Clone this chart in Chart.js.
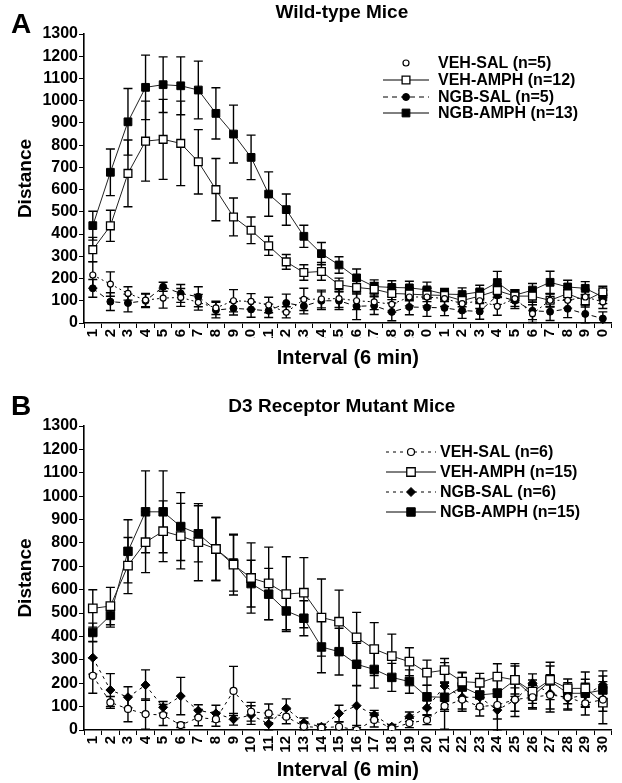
<!DOCTYPE html>
<html><head><meta charset="utf-8">
<script src="https://cdn.jsdelivr.net/npm/chart.js@4.4.1/dist/chart.umd.min.js"></script>
<style>
html,body{margin:0;padding:0;background:#fff;}
#wrap{position:relative;width:622px;height:783px;overflow:hidden;background:#fff;}
.pane{position:absolute;left:0;width:622px;}
#pa{top:0;height:380px;} #pb{top:380px;height:403px;}
canvas{display:block;}
</style></head><body>
<div id="wrap">
<div class="pane" id="pa"><canvas id="ca" width="622" height="380"></canvas></div>
<div class="pane" id="pb"><canvas id="cb" width="622" height="403"></canvas></div>
</div>
<script>
// ---------- data ----------
const intervals = ['1','2','3','4','5','6','7','8','9','10','11','12','13','14','15','16','17','18','19','20','21','22','23','24','25','26','27','28','29','30'];
const yTicks = [0,100,200,300,400,500,600,700,800,900,1000,1100,1200,1300];

// Panel A: Wild-type Mice
const wtLabels = ['VEH-SAL (n=5)','VEH-AMPH (n=12)','NGB-SAL (n=5)','NGB-AMPH (n=13)'];
const wtVehSal      = [216,175,133,103,112,115,93,68,100,97,81,48,106,108,110,100,95,84,117,117,110,87,100,75,110,42,102,102,117,95];
const wtVehSalErr   = [60,55,30,30,45,40,35,30,50,35,35,25,50,40,40,40,35,35,40,40,35,35,35,40,35,40,30,35,35,30];
const wtVehAmph     = [330,437,673,818,826,808,725,600,477,417,347,275,227,232,172,160,152,133,130,126,124,101,121,146,121,121,102,132,100,140];
const wtVehAmphErr  = [55,70,150,180,180,190,145,140,85,60,43,33,35,40,30,30,30,28,30,30,28,28,28,30,28,28,28,28,28,25];
const wtNgbSal      = [156,96,90,100,163,133,118,58,66,61,55,90,76,100,100,75,78,50,72,70,68,56,52,124,100,55,51,64,41,20];
const wtNgbSalErr   = [40,40,40,30,20,40,45,35,30,35,30,40,35,40,40,60,40,40,35,40,35,35,35,40,35,40,40,40,40,30];
const wtNgbAmph     = [438,678,905,1060,1072,1067,1048,943,850,745,580,510,390,312,261,203,164,160,158,149,130,128,140,182,125,148,183,162,156,117];
const wtNgbAmphErr  = [65,105,150,145,125,130,130,115,130,100,100,70,50,50,37,40,30,30,30,35,25,30,30,50,25,30,50,30,30,30];

// Panel B: D3 Receptor Mutant Mice
const d3Labels = ['VEH-SAL (n=6)','VEH-AMPH (n=15)','NGB-SAL (n=6)','NGB-AMPH (n=15)'];
const d3VehSal      = [232,118,90,68,64,21,53,46,167,78,71,57,15,10,14,0,43,7,30,43,103,130,100,107,130,140,150,140,114,130];
const d3VehSalErr   = [75,25,55,65,45,10,35,30,105,40,40,30,20,15,20,10,30,15,20,20,100,40,40,60,50,50,60,50,50,50];
const d3VehAmph     = [520,530,703,803,850,829,803,774,707,650,627,581,587,481,463,396,346,316,292,245,256,207,202,228,214,164,214,178,178,117];
const d3VehAmphErr  = [80,80,120,130,130,140,165,135,130,150,155,160,150,165,135,107,113,94,60,54,50,40,40,55,60,50,60,40,70,90];
const d3NgbSal      = [309,171,140,192,97,145,83,71,46,64,26,93,31,14,71,104,64,14,57,95,188,140,140,85,128,200,157,135,150,193];
const d3NgbSalErr   = [70,70,45,65,25,80,25,35,25,40,25,40,20,10,35,85,20,10,20,30,100,60,50,90,70,40,80,50,50,60];
const d3NgbAmph     = [417,490,764,933,933,870,839,774,714,626,581,509,478,355,335,281,259,225,207,142,140,185,150,157,214,145,210,157,157,171];
const d3NgbAmphErr  = [40,50,135,175,175,145,120,135,120,100,110,80,75,110,100,90,80,60,50,50,60,60,50,60,70,50,80,45,60,60];

// ---------- helpers ----------
const FONT = '"Liberation Sans", Arial, Helvetica, sans-serif';
Chart.defaults.color = '#000';
Chart.defaults.font.family = FONT;

function drawMarker(ctx, style, r, x, y, fill, bw){
  ctx.save();
  ctx.setLineDash([]);
  ctx.fillStyle = fill; ctx.strokeStyle = '#000'; ctx.lineWidth = bw;
  ctx.beginPath();
  if (style === 'circle') { ctx.arc(x, y, r, 0, Math.PI*2); }
  else if (style === 'rect') { const s = Math.SQRT1_2*r; ctx.rect(x-s, y-s, 2*s, 2*s); }
  else if (style === 'rectRot') { ctx.moveTo(x, y-r); ctx.lineTo(x+r, y); ctx.lineTo(x, y+r); ctx.lineTo(x-r, y); ctx.closePath(); }
  ctx.fill(); if (bw > 0) ctx.stroke();
  ctx.restore();
}

const errorBars = {
  id: 'errorBars',
  beforeDatasetsDraw(chart){
    const {ctx, chartArea: a, scales: {y}} = chart;
    ctx.save();
    ctx.beginPath(); ctx.rect(a.left, 0, a.right - a.left, a.bottom + 1); ctx.clip();
    ctx.strokeStyle = '#000'; ctx.lineWidth = 1.4; ctx.setLineDash([]);
    chart.data.datasets.forEach((ds, i) => {
      const meta = chart.getDatasetMeta(i);
      meta.data.forEach((pt, j) => {
        const v = ds.data[j], e = ds.errs[j];
        const yt = y.getPixelForValue(v + e), yb = y.getPixelForValue(v - e);
        const x = pt.x, cw = 4.5;
        ctx.beginPath();
        ctx.moveTo(x, yt); ctx.lineTo(x, yb);
        ctx.moveTo(x - cw, yt); ctx.lineTo(x + cw, yt);
        ctx.moveTo(x - cw, yb); ctx.lineTo(x + cw, yb);
        ctx.stroke();
      });
    });
    ctx.restore();
  }
};

const panelDecor = {
  id: 'panelDecor',
  afterDraw(chart, args, o){
    const {ctx, chartArea: a} = chart;
    ctx.save();
    ctx.fillStyle = '#000';
    ctx.textBaseline = 'middle';
    // panel letter
    ctx.font = 'bold 28px ' + FONT; ctx.textAlign = 'left';
    ctx.fillText(o.letter, o.letterX, o.letterY);
    // panel title
    ctx.font = 'bold 19px ' + FONT; ctx.textAlign = 'center';
    ctx.fillText(o.title, (a.left + a.right)/2 - 6, o.titleY);
    // legend
    ctx.font = 'bold 16px ' + FONT; ctx.textAlign = 'left';
    chart.data.datasets.forEach((ds, i) => {
      const y = a.top + o.rowY[i];
      if (o.showLine[i]) {
        ctx.save();
        ctx.strokeStyle = '#000'; ctx.lineWidth = ds.borderWidth;
        ctx.setLineDash(ds.borderDash || []);
        ctx.beginPath(); ctx.moveTo(o.x0, y); ctx.lineTo(o.x1, y); ctx.stroke();
        ctx.restore();
      }
      drawMarker(ctx, ds.pointStyle, ds.pointRadius, (o.x0 + o.x1)/2, y, ds.pointBackgroundColor, ds.pointBorderWidth);
      ctx.fillStyle = '#000';
      ctx.fillText(ds.label, o.xt, y + 1);
    });
    ctx.restore();
  }
};

function makeDatasets(labels, vs, vse, va, vae, ns, nse, na, nae, P){
  const common = {fill: false, tension: 0, borderColor: '#000', pointBorderColor: '#000'};
  return [
    Object.assign({}, common, {label: labels[0], data: vs, errs: vse, borderWidth: 1, borderDash: P.vsDash,
      pointStyle: 'circle', pointRadius: P.vsR, pointBackgroundColor: '#fff', pointBorderWidth: 1.2}),
    Object.assign({}, common, {label: labels[1], data: va, errs: vae, borderWidth: 1, borderColor: '#222',
      pointStyle: 'rect', pointRadius: P.sqR, pointBackgroundColor: '#fff', pointBorderWidth: 1.3}),
    Object.assign({}, common, {label: labels[2], data: ns, errs: nse, borderWidth: 1, borderDash: P.nsDash,
      pointStyle: P.nsStyle, pointRadius: P.nsR, pointBackgroundColor: '#000', pointBorderWidth: 1}),
    Object.assign({}, common, {label: labels[3], data: na, errs: nae, borderWidth: 1, borderColor: '#222',
      pointStyle: 'rect', pointRadius: P.sqR, pointBackgroundColor: '#000', pointBorderWidth: 1})
  ];
}

function makePanel(canvasId, datasets, P){
  return new Chart(document.getElementById(canvasId), {
    type: 'line',
    data: {labels: intervals, datasets},
    options: {
      responsive: false, animation: false, devicePixelRatio: 1,
      layout: {padding: {top: P.padTop, right: P.padRight, bottom: 0, left: 0}},
      plugins: {legend: {display: false}, tooltip: {enabled: false}, title: {display: false},
        panelDecor: P.decor},
      scales: {
        x: {
          type: 'category', offset: true,
          grid: {display: true, drawOnChartArea: false, drawTicks: true, tickLength: 5, offset: true, color: '#000', lineWidth: 1},
          border: {display: true, color: '#000', width: 1.6},
          ticks: {autoSkip: false, minRotation: 90, maxRotation: 90, padding: 1, color: '#000',
            font: {size: 15, weight: 'bold', family: FONT}},
          title: {display: true, text: 'Interval (6 min)', color: '#000',
            font: {size: 20, weight: 'bold', family: FONT}, padding: {top: 0, bottom: P.xTitlePad}},
          afterFit(s){
            s.height = P.xAxisH;
            if (P.clipLabels && !s.__wrapped) {
              const orig = s.drawLabels;
              s.drawLabels = function(area){
                const c = this.ctx; c.save(); c.beginPath();
                c.rect(0, this.top, this.chart.width, P.clipLabels); c.clip();
                orig.call(this, area); c.restore();
              };
              s.__wrapped = true;
            }
          }
        },
        y: {
          min: 0, max: 1300,
          afterBuildTicks(s){ s.ticks = yTicks.map(v => ({value: v})); },
          grid: {display: true, drawOnChartArea: false, drawTicks: true, tickLength: 5, color: '#000', lineWidth: 1},
          border: {display: true, color: '#000', width: 1.6},
          ticks: {autoSkip: false, padding: 1, color: '#000', font: {size: 16, weight: 'bold', family: FONT},
            callback: (v) => String(v)},
          title: {display: true, text: 'Distance', color: '#000',
            font: {size: 19, weight: 'bold', family: FONT}, padding: {top: 14, bottom: 0}},
          afterFit(s){ s.width = 84; }
        }
      }
    },
    plugins: [errorBars, panelDecor]
  });
}

const dsA = makeDatasets(wtLabels, wtVehSal, wtVehSalErr, wtVehAmph, wtVehAmphErr, wtNgbSal, wtNgbSalErr, wtNgbAmph, wtNgbAmphErr,
  {vsDash: [2,3], nsDash: [5,4], vsR: 3, sqR: 5.5, nsStyle: 'circle', nsR: 3.5});
makePanel('ca', dsA, {
  padTop: 34, padRight: 10, xAxisH: 57, xTitlePad: 10, clipLabels: 15,
  decor: {letter: 'A', letterX: 11, letterY: 25, title: 'Wild-type Mice', titleY: 13,
    rowY: [29, 46, 63, 79], showLine: [false, true, true, true], x0: 383, x1: 429, xt: 438}
});

const dsB = makeDatasets(d3Labels, d3VehSal, d3VehSalErr, d3VehAmph, d3VehAmphErr, d3NgbSal, d3NgbSalErr, d3NgbAmph, d3NgbAmphErr,
  {vsDash: [3,4], nsDash: [3,4], vsR: 3.5, sqR: 6, nsStyle: 'rectRot', nsR: 4.5});
makePanel('cb', dsB, {
  padTop: 46, padRight: 3, xAxisH: 53, xTitlePad: 1, clipLabels: 0,
  decor: {letter: 'B', letterX: 11, letterY: 27, title: 'D3 Receptor Mutant Mice', titleY: 27,
    rowY: [26, 46, 66, 86], showLine: [true, true, true, true], x0: 386, x1: 436, xt: 440}
});
</script>
</body></html>
